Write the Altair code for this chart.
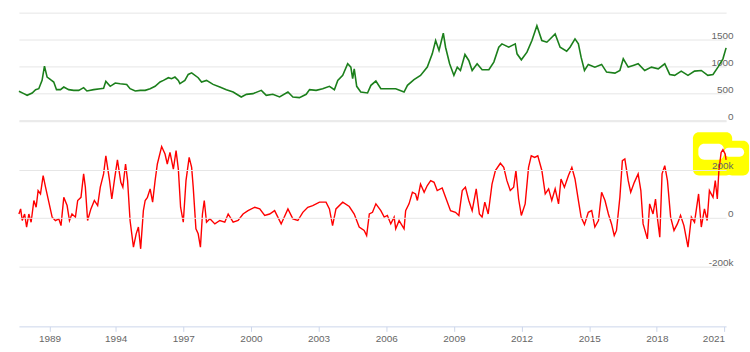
import altair as alt
import pandas as pd

FONT = "Liberation Sans Narrow, Liberation Sans, Arial, sans-serif"

# ---- price series (top panel) ----
price_year = [1986.69, 1987.06, 1987.31, 1987.69, 1987.95, 1988.19, 1988.44, 1988.62, 1988.82, 1989.08,
              1989.32, 1989.53, 1989.83, 1990.08, 1990.45, 1990.83, 1991.21, 1991.58, 1991.83, 1992.34,
              1992.84, 1993.09, 1993.26, 1993.59, 1993.97, 1994.20, 1994.49, 1994.64, 1994.87, 1995.09,
              1995.31, 1995.53, 1995.75, 1995.97, 1996.12, 1996.34, 1996.48, 1996.63, 1996.78, 1996.85,
              1997.07, 1997.22, 1997.37, 1997.66, 1997.81, 1998.03, 1998.32, 1998.62, 1998.91, 1999.21,
              1999.57, 1999.80, 2000.09, 2000.46, 2000.68, 2000.97, 2001.27, 2001.64, 2001.86, 2002.15,
              2002.45, 2002.60, 2002.89, 2003.18, 2003.48, 2003.70, 2003.85, 2004.07, 2004.29, 2004.43,
              2004.51, 2004.58, 2004.69, 2004.87, 2005.17, 2005.32, 2005.54, 2005.76, 2006.05, 2006.42,
              2006.79, 2006.94, 2007.23, 2007.52, 2007.82, 2008.04, 2008.19, 2008.34, 2008.53, 2008.63,
              2008.81, 2009.00, 2009.15, 2009.29, 2009.49, 2009.66, 2009.81, 2010.03, 2010.25, 2010.55,
              2010.77, 2010.99, 2011.13, 2011.43, 2011.72, 2011.80, 2011.99, 2012.24, 2012.46, 2012.68,
              2012.90, 2013.12, 2013.20, 2013.49, 2013.71, 2014.00, 2014.15, 2014.37, 2014.52, 2014.64,
              2014.79, 2014.96, 2015.25, 2015.55, 2015.77, 2016.14, 2016.36, 2016.51, 2016.73, 2016.95,
              2017.17, 2017.46, 2017.76, 2018.06, 2018.35, 2018.57, 2018.79, 2019.08, 2019.38, 2019.67,
              2019.97, 2020.26, 2020.49, 2020.71, 2020.93, 2021.07]
price_value = [537, 494, 463, 506, 568, 586, 740, 1006, 802, 753,
               710, 568, 568, 617, 568, 555, 555, 605, 543, 568,
               586, 592, 722, 630, 691, 679, 666, 586, 543, 555,
               555, 586, 630, 710, 740, 790, 771, 802, 740, 679,
               740, 851, 880, 790, 710, 740, 666, 617, 568, 524,
               432, 481, 494, 555, 463, 481, 432, 524, 432, 420,
               481, 568, 555, 586, 630, 568, 740, 833, 1049, 987,
               771, 956, 630, 524, 506, 648, 728, 586, 586, 586,
               524, 648, 753, 833, 987, 1234, 1481, 1296, 1617, 1357,
               1049, 833, 987, 925, 1222, 1111, 925, 1049, 938, 938,
               1080, 1357, 1419, 1357, 1419, 1234, 1123, 1265, 1481, 1758,
               1481, 1450, 1481, 1604, 1357, 1283, 1357, 1512, 1419, 1172,
               925, 1037, 987, 1037, 895, 876, 925, 1141, 987, 1018,
               1049, 925, 987, 956, 1049, 851, 833, 913, 833, 913,
               925, 833, 851, 987, 1141, 1345]

# ---- net positions (bottom panel), in thousands ----
net_year = [1986.69, 1986.82, 1986.94, 1987.12, 1987.27, 1987.44, 1987.61, 1987.82, 1987.99, 1988.14,
            1988.32, 1988.52, 1988.70, 1988.95, 1989.20, 1989.45, 1989.70, 1989.87, 1990.08, 1990.33,
            1990.51, 1990.70, 1990.96, 1991.13, 1991.38, 1991.58, 1991.71, 1991.88, 1992.13, 1992.39,
            1992.64, 1992.84, 1993.09, 1993.26, 1993.54, 1993.71, 1993.92, 1994.08, 1994.23, 1994.32,
            1994.44, 1994.53, 1994.64, 1994.79, 1994.91, 1995.01, 1995.11, 1995.23, 1995.31, 1995.41,
            1995.53, 1995.64, 1995.75, 1995.85, 1996.04, 1996.19, 1996.29, 1996.41, 1996.56, 1996.68,
            1996.78, 1996.88, 1997.00, 1997.12, 1997.26, 1997.37, 1997.44, 1997.56, 1997.66, 1997.76,
            1997.85, 1997.93, 1998.03, 1998.18, 1998.40, 1998.62, 1998.84, 1998.99, 1999.21, 1999.43,
            1999.65, 1999.87, 2000.17, 2000.39, 2000.61, 2000.83, 2001.05, 2001.34, 2001.64, 2001.86,
            2002.08, 2002.30, 2002.52, 2002.74, 2003.04, 2003.33, 2003.48, 2003.62, 2003.77, 2004.07,
            2004.36, 2004.58, 2004.80, 2005.02, 2005.13, 2005.25, 2005.39, 2005.54, 2005.76, 2005.91,
            2006.05, 2006.20, 2006.35, 2006.42, 2006.57, 2006.79, 2006.86, 2007.01, 2007.16, 2007.30,
            2007.38, 2007.52, 2007.68, 2007.82, 2007.97, 2008.12, 2008.26, 2008.48, 2008.63, 2008.85,
            2009.07, 2009.22, 2009.37, 2009.51, 2009.66, 2009.81, 2009.99, 2010.13, 2010.25, 2010.37,
            2010.52, 2010.69, 2010.84, 2011.06, 2011.21, 2011.35, 2011.50, 2011.65, 2011.75, 2011.87,
            2011.99, 2012.16, 2012.31, 2012.43, 2012.58, 2012.72, 2012.90, 2013.05, 2013.20, 2013.34,
            2013.49, 2013.64, 2013.75, 2013.90, 2014.08, 2014.23, 2014.37, 2014.52, 2014.64, 2014.79,
            2014.96, 2015.11, 2015.25, 2015.41, 2015.55, 2015.70, 2015.85, 2015.99, 2016.11, 2016.21,
            2016.36, 2016.47, 2016.58, 2016.73, 2016.84, 2017.00, 2017.17, 2017.29, 2017.39, 2017.58,
            2017.68, 2017.83, 2017.94, 2018.02, 2018.13, 2018.23, 2018.35, 2018.47, 2018.61, 2018.76,
            2018.91, 2019.05, 2019.20, 2019.38, 2019.53, 2019.67, 2019.85, 2019.97, 2020.11, 2020.23,
            2020.33, 2020.49, 2020.59, 2020.68, 2020.75, 2020.85, 2020.93, 2021.03, 2021.07]
net_k = [16, 37, -11, 16, -38, 16, -18, 72, 44, 113,
         99, 175, 127, 65, 3, -11, -4, -32, 85, 51,
         -11, 16, 3, 72, 85, 182, 127, -11, 37, 72,
         51, 127, 182, 257, 154, 78, 161, 240, 147, 127,
         223, 154, -11, -121, -66, -38, -128, 30, 72, 85,
         120, 65, 154, 223, 295, 264, 223, 271, 202, 278,
         202, 44, -18, 154, 250, 209, 127, -45, -66, -121,
         16, 72, -18, -4, -25, -11, -18, 16, -18, -11,
         16, 30, 44, 37, 10, 16, 30, -25, 37, -4,
         -11, 23, 44, 51, 65, 65, 37, -32, 37, 65,
         47, 16, -38, -52, -73, 16, 23, 58, 30, 3,
         10, -25, 3, -45, -11, -45, 30, 58, 106, 99,
         72, 140, 106, 134, 154, 147, 113, 124, 85, 30,
         23, 10, 113, 127, 72, 30, 120, 16, 3, 65,
         16, 140, 196, 226, 209, 154, 113, 127, 196, 78,
         10, 58, 209, 257, 250, 257, 196, 99, 120, 72,
         120, 58, 161, 127, 175, 209, 161, 72, 3, -28,
         23, 30, -38, -11, 106, 72, 16, -25, -73, -52,
         85, 237, 244, 154, 106, 147, 182, 113, -25, -87,
         58, 16, 78, 3, -80, 182, 216, 154, 3, -52,
         -25, 10, -32, -121, 3, -18, 99, -38, 37, -11,
         113, 85, 154, 78, 196, 271, 282, 264, 240]

year_ticks = [1989, 1994, 1997, 2000, 2003, 2006, 2009, 2012, 2015, 2018, 2021]
price_ticks = [0, 500, 1000, 1500, 2000]
net_ticks = [-200000, 0, 200000, 400000]

# hand-drawn yellow highlight around the latest value (data units)
hl_x1 = [2019.60, 2021.07, 2019.84, 2020.98]
hl_x2 = [2021.34, 2022.09, 2020.98, 2021.87]
hl_y1 = [175000, 175000, 241000, 253000]
hl_y2 = [354000, 319000, 307000, 290000]
hl_fill = ["#ffff00", "#ffff00", "#ffffff", "#ffffff"]

price_df = pd.DataFrame({"year": price_year, "value": price_value})
net_df = pd.DataFrame({"year": net_year, "value": [v * 1000 for v in net_k]})
hl_df = pd.DataFrame({"x1": hl_x1, "x2": hl_x2, "y1": hl_y1, "y2": hl_y2, "fill": hl_fill})

# ordinal-like time axis: early (sparser) years are compressed
x_scale = alt.Scale(domain=[1986.69, 1989, 1994, 2021.07], range=[0, 30.7, 97.1, 710],
                    nice=False, zero=False)

label_style = dict(labelColor="#666666", labelFontSize=10, labelFont=FONT)

price_axis = alt.Axis(orient="right", values=price_ticks, format="d",
                      labelExpr="datum.value == 2000 ? '' : datum.label",
                      grid=True, gridColor="#e6e6e6", domain=False, ticks=False,
                      labelAlign="right", labelPadding=7, labelBaseline="alphabetic",
                      labelOffset=-1, title=None, **label_style)

net_axis = alt.Axis(orient="right", values=net_ticks,
                    labelExpr="datum.value == 400000 ? '' : datum.value == 0 ? '0' : "
                              "(datum.value < 0 ? '-' : '') + (abs(datum.value) / 1000) + 'k'",
                    grid=True, gridColor="#e6e6e6", domain=False, ticks=False,
                    labelAlign="right", labelPadding=7, labelBaseline="alphabetic",
                    labelOffset=-1, title=None, zindex=1, **label_style)

x_axis = alt.Axis(values=year_ticks, format="d", labelFlush=5, tickSize=5,
                  tickColor="#ccd6eb", domainColor="#ccd6eb", labelPadding=2,
                  grid=False, title=None, labelOverlap=False, **label_style)

price_y = alt.Scale(domain=[0, 2000], nice=False, zero=False)
net_y = alt.Scale(domain=[-449000, 400000], nice=False, zero=False)

top = alt.Chart(price_df).mark_line(color="#1b7f1b", strokeWidth=1.6).encode(
    x=alt.X("year:Q", scale=x_scale, axis=None),
    y=alt.Y("value:Q", scale=price_y, axis=price_axis),
).properties(width=710, height=108)

hl = alt.Chart(hl_df).mark_rect(cornerRadius=6).encode(
    x=alt.X("x1:Q", scale=x_scale, axis=x_axis),
    x2="x2:Q",
    y=alt.Y("y1:Q", scale=net_y, axis=net_axis),
    y2="y2:Q",
    color=alt.Color("fill:N", scale=None),
)

net_line = alt.Chart(net_df).mark_line(color="#ff0000", strokeWidth=1.4).encode(
    x=alt.X("year:Q", scale=x_scale, axis=x_axis),
    y=alt.Y("value:Q", scale=net_y, axis=net_axis),
)

bottom = alt.layer(hl, net_line).properties(width=710, height=206)

chart = alt.vconcat(top, bottom, spacing=0).properties(
    padding={"left": 15, "top": 12, "right": 0, "bottom": 0},
    background="#ffffff",
).configure_view(stroke=None)

chart.save("out.html", embed_options={"renderer": "svg", "actions": False})
